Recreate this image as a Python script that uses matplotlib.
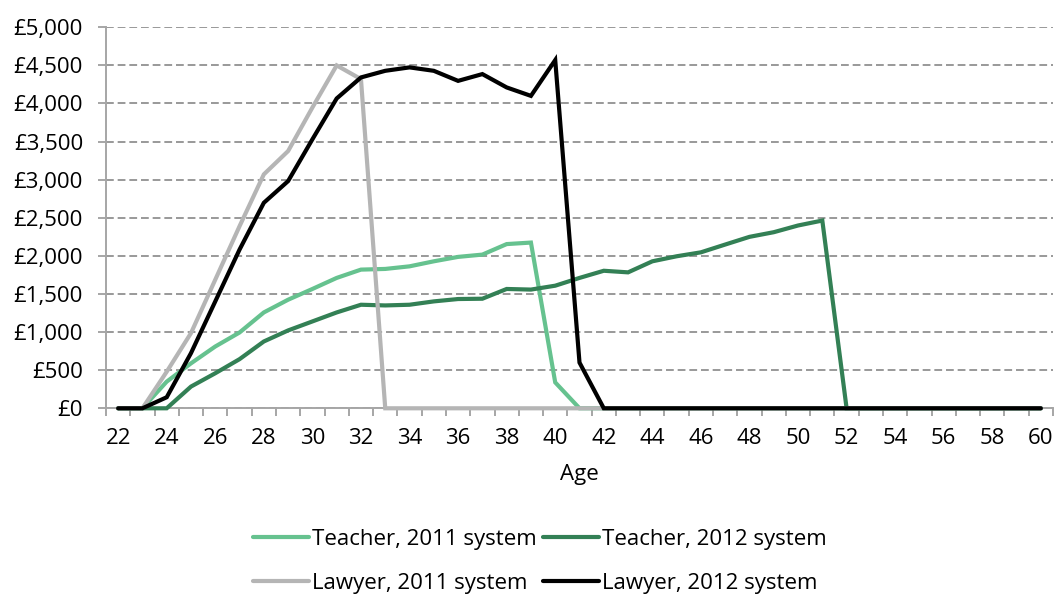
import numpy as np
import matplotlib
matplotlib.use("Agg")
import matplotlib.pyplot as plt
from matplotlib.ticker import FixedLocator, FuncFormatter

plt.rcParams['font.family'] = ['Open Sans', 'DejaVu Sans']

# Ages 22..60
ages = list(range(22, 61))

# values (22..60), zeros after the drop
teacher_2011 = [0, 0, 350, 590, 811, 995, 1258, 1425, 1566, 1711, 1820, 1829, 1863,
                1929, 1987, 2017, 2155, 2175, 340, 0] + [0] * 19
teacher_2012 = [0, 0, 0, 285, 460, 645, 877, 1022, 1140, 1258, 1359, 1350, 1359,
                1403, 1434, 1438, 1566, 1558, 1609, 1711, 1805, 1784, 1929, 1995,
                2047, 2149, 2250, 2311, 2399, 2464, 0] + [0] * 8
lawyer_2011 = [0, 0, 480, 987, 1688, 2390, 3070, 3376, 3947, 4500, 4320] + [0] * 28
lawyer_2012 = [0, 0, 145, 724, 1403, 2083, 2697, 2982, 3530, 4066, 4342, 4429, 4474,
               4429, 4297, 4386, 4211, 4100, 4570, 600] + [0] * 19

labels = ["Teacher, 2011 system", "Teacher, 2012 system",
          "Lawyer, 2011 system", "Lawyer, 2012 system"]
colors = ["#66c28f", "#338055", "#b5b5b5", "#000000"]

fig = plt.figure(figsize=(10.57, 5.94), dpi=100)
ax = fig.add_axes([106 / 1057, 1 - 408.3 / 594, 947 / 1057, 381 / 594])

lines = []
for vals, lab, col in zip([teacher_2011, teacher_2012, lawyer_2011, lawyer_2012], labels, colors):
    ln, = ax.plot(ages, vals, color=col, lw=3.0, label=lab, clip_on=False,
                  solid_capstyle='round', solid_joinstyle='miter', zorder=3)
    lines.append(ln)

ax.set_xlim(21.5, 60.5)
ax.set_ylim(0, 5000)

# grid
ax.set_yticks(range(0, 5001, 500))
ax.yaxis.set_major_formatter(FuncFormatter(lambda v, p: "£{:,.0f}".format(v)))
ax.grid(axis='y', color='#999999', lw=1.4, linestyle=(0, (4, 2)), zorder=1)
ax.set_axisbelow(True)

# x: ticks between categories, labels on even ages
ax.xaxis.set_major_locator(FixedLocator(np.arange(21.5, 60.6, 1)))
ax.xaxis.set_major_formatter(FuncFormatter(lambda v, p: ""))
ax.xaxis.set_minor_locator(FixedLocator(range(22, 61, 2)))
ax.xaxis.set_minor_formatter(FuncFormatter(lambda v, p: "%d" % v))
ax.tick_params(axis='x', which='major', length=5.5, width=1.4, color='#a6a6a6')
ax.tick_params(axis='x', which='minor', length=0, pad=14, labelsize=16)
ax.tick_params(axis='y', length=5.5, width=1.4, color='#a6a6a6', pad=11, labelsize=16)

for s in ['top', 'right']:
    ax.spines[s].set_visible(False)
for s in ['left', 'bottom']:
    ax.spines[s].set_color('#a6a6a6')
    ax.spines[s].set_linewidth(1.4)

ax.set_xlabel("Age", fontsize=16, labelpad=11)

order = [0, 2, 1, 3]
fig.legend([lines[i] for i in order], [labels[i] for i in order], ncol=2,
           loc='center', bbox_to_anchor=(540 / 1057, 1 - 561.5 / 594),
           frameon=False, fontsize=16, handlelength=2.5, handletextpad=0.15,
           columnspacing=0.3, labelspacing=1.05)

fig.savefig("out.png", dpi=100)
